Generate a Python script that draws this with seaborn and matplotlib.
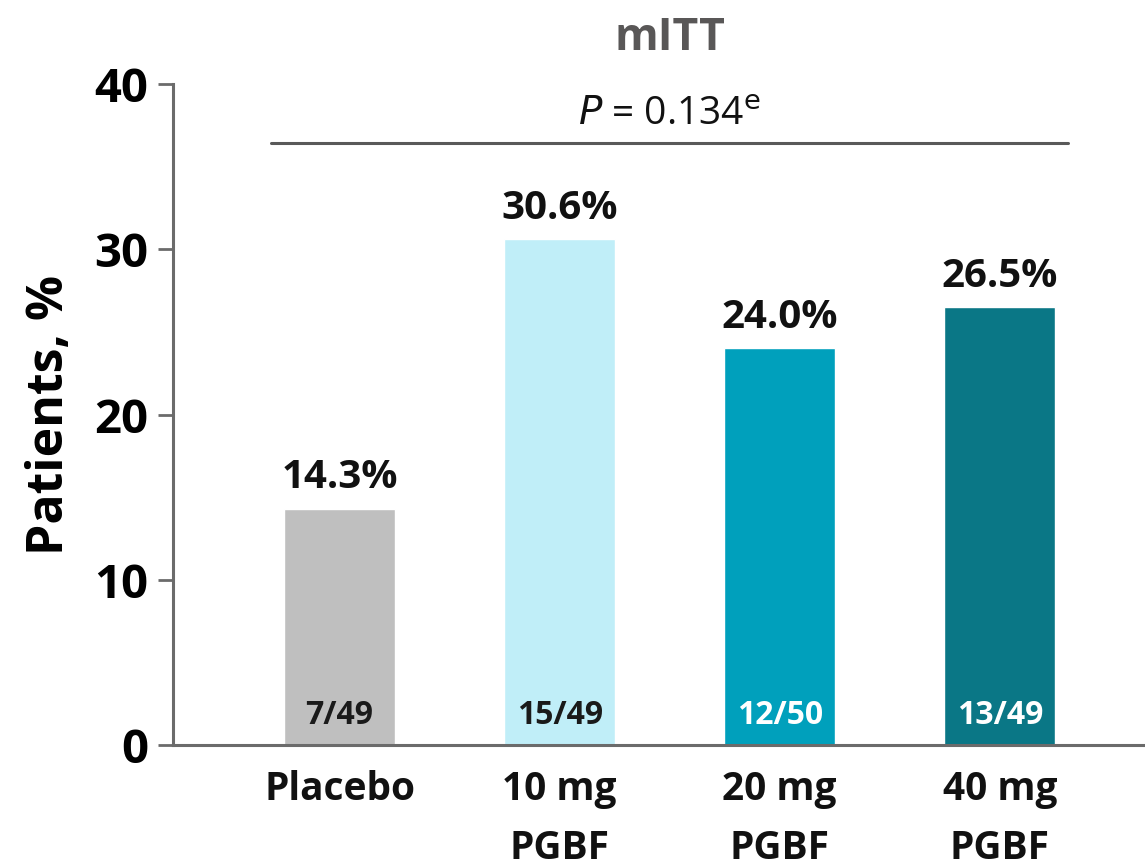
import matplotlib
matplotlib.use("Agg")
import matplotlib.pyplot as plt
import seaborn as sns
import pandas as pd

groups = ["Placebo", "10 mg\nPGBF", "20 mg\nPGBF", "40 mg\nPGBF"]
percent = [14.3, 30.6, 24.0, 26.5]
counts = ["7/49", "15/49", "12/50", "13/49"]
bar_colors = ["#BFBFBF", "#C0EEF8", "#00A0BC", "#0A7786"]
count_colors = ["#1a1a1a", "#1a1a1a", "#ffffff", "#ffffff"]
y_ticks = [0, 10, 20, 30, 40]
title = "mITT"
p_value = "0.134"

sns.set_theme(style="white")
plt.rcParams["font.family"] = ["Open Sans", "DejaVu Sans"]

df = pd.DataFrame({"group": groups, "pct": percent})

fig = plt.figure(figsize=(11.45, 8.68), dpi=100)
ax = fig.add_axes([0.1511, 0.1417, 0.8489, 0.7615])

sns.barplot(data=df, x="group", y="pct", hue="group", palette=bar_colors,
            width=0.505, saturation=1, legend=False, ax=ax)

ax.set_ylim(0, 40)
ax.set_xlim(-0.757, 3.66)
ax.set_yticks(y_ticks)
ax.set_yticklabels([str(t) for t in y_ticks], fontsize=34, fontweight="bold",
                   color="#000000")
ax.set_xticks(range(len(groups)))
ax.set_xticklabels(groups, fontsize=28, fontweight="bold", linespacing=1.65,
                   va="top", color="#111111")
ax.set_xlabel("")
ax.set_ylabel("Patients, %", fontsize=36, fontweight="bold", labelpad=14,
              color="#000000")

for side in ["top", "right"]:
    ax.spines[side].set_visible(False)
for side in ["left", "bottom"]:
    ax.spines[side].set_color("#6b6b6b")
    ax.spines[side].set_linewidth(2.2)
ax.tick_params(axis="y", direction="out", length=11, width=2, color="#6b6b6b",
               pad=7, left=True)
ax.tick_params(axis="x", length=0, pad=18)

for i, (v, c, cc) in enumerate(zip(percent, counts, count_colors)):
    ax.text(i, v + 0.7, f"{v:.1f}%", ha="center", va="bottom",
            fontsize=29, fontweight="bold", color="#111111")
    ax.text(i, 1.8, c, ha="center", va="center", fontsize=23,
            fontweight="bold", color=cc)

ax.plot([-0.311, 3.311], [36.45, 36.45], color="#595959", lw=2.2,
        clip_on=False)
ax.text(1.5, 37.0, rf"$\it{{P}}$ = {p_value}$^{{\mathrm{{e}}}}$", ha="center",
        va="bottom", fontsize=28, color="#111111")
ax.text(1.5, 41.4, title, ha="center", va="bottom", fontsize=32,
        fontweight="bold", color="#595757")

fig.savefig("out.png", dpi=100)
